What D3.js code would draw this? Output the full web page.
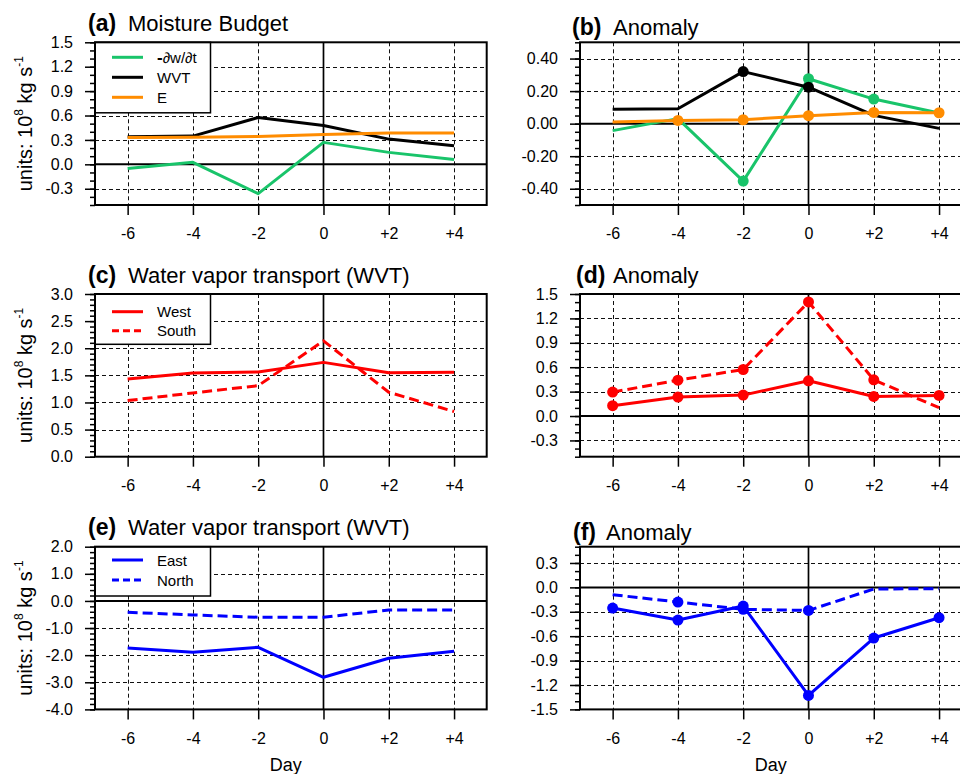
<!DOCTYPE html>
<html><head><meta charset="utf-8">
<script src="https://cdn.jsdelivr.net/npm/d3@7"></script>
<style>
html,body{margin:0;padding:0;background:#fff;}
svg{display:block;font-family:"Liberation Sans",Arial,Helvetica,sans-serif;}
</style></head>
<body>
<svg id="chart" width="960" height="774"></svg>
<script>
// ---------------- DATA ----------------
const days = [-6, -4, -2, 0, 2, 4];
const dayLabels = ["-6", "-4", "-2", "0", "+2", "+4"];

// (a) Moisture budget
const aDwdt = [-0.05, 0.025, -0.36, 0.27, 0.147, 0.058];
const aWVT  = [0.34, 0.347, 0.576, 0.478, 0.31, 0.229];
const aE    = [0.33, 0.332, 0.343, 0.367, 0.384, 0.384];
// (b) Anomaly
const bDwdt = [-0.043, 0.031, -0.353, 0.276, 0.151, 0.065];
const bWVT  = [0.088, 0.092, 0.32, 0.224, 0.051, -0.029];
const bE    = [0.01, 0.02, 0.024, 0.049, 0.069, 0.067];
const bDwdtSig = [0, 0, 1, 1, 1, 0];
const bWVTSig  = [0, 0, 1, 1, 0, 0];
const bESig    = [0, 1, 1, 1, 1, 1];
// (c) WVT west / south
const cWest  = [1.433, 1.543, 1.561, 1.739, 1.549, 1.555];
const cSouth = [1.035, 1.176, 1.31, 2.137, 1.188, 0.833];
// (d) Anomaly
const dWest  = [0.127, 0.233, 0.257, 0.433, 0.241, 0.253];
const dSouth = [0.294, 0.441, 0.572, 1.402, 0.445, 0.102];
const dWestSig  = [1, 1, 1, 1, 1, 1];
const dSouthSig = [1, 1, 1, 1, 1, 0];
// (e) WVT east / north
const eEast  = [-1.734, -1.893, -1.709, -2.816, -2.115, -1.857];
const eNorth = [-0.418, -0.516, -0.602, -0.602, -0.332, -0.332];
// (f) Anomaly
const fEast  = [-0.254, -0.402, -0.23, -1.328, -0.623, -0.373];
const fNorth = [-0.09, -0.18, -0.27, -0.283, -0.02, -0.016];
const fEastSig  = [1, 1, 1, 1, 1, 1];
const fNorthSig = [0, 1, 1, 1, 0, 0];

// tick values / labels
const yTicksA = [-0.3, 0, 0.3, 0.6, 0.9, 1.2, 1.5];
const yLabelsA = ["-0.3", "0.0", "0.3", "0.6", "0.9", "1.2", "1.5"];
const yTicksB = [-0.4, -0.2, 0, 0.2, 0.4];
const yLabelsB = ["-0.40", "-0.20", "0.00", "0.20", "0.40"];
const yTicksC = [0, 0.5, 1, 1.5, 2, 2.5, 3];
const yLabelsC = ["0.0", "0.5", "1.0", "1.5", "2.0", "2.5", "3.0"];
const yTicksD = [-0.3, 0, 0.3, 0.6, 0.9, 1.2, 1.5];
const yLabelsD = ["-0.3", "0.0", "0.3", "0.6", "0.9", "1.2", "1.5"];
const yTicksE = [-4, -3, -2, -1, 0, 1, 2];
const yLabelsE = ["-4.0", "-3.0", "-2.0", "-1.0", "0.0", "1.0", "2.0"];
const yTicksF = [-1.5, -1.2, -0.9, -0.6, -0.3, 0, 0.3];
const yLabelsF = ["-1.5", "-1.2", "-0.9", "-0.6", "-0.3", "0.0", "0.3"];

const GREEN = "#19c46a", ORANGE = "#ff8c00", RED = "#ff0000", BLUE = "#0000ff";

// ---------------- DRAW ----------------
const svg = d3.select("#chart");
const PW = 391.7, PH = 162.7;
const FONT_TICK = 16;

function panel(cfg) {
  const g = svg.append("g");
  const x = d3.scaleLinear().domain([-7, 5]).range([cfg.left, cfg.left + PW]);
  const y = d3.scaleLinear().domain(cfg.yDomain).range([cfg.top + PH, cfg.top]);
  const x0 = cfg.left, x1 = cfg.left + PW, y0 = cfg.top + PH, y1 = cfg.top;

  // grid
  const grid = g.append("g").attr("stroke", "#111").attr("stroke-width", 1).attr("stroke-dasharray", "4,3");
  grid.selectAll("line.v").data(days.filter(d => d !== 0)).join("line")
    .attr("x1", d => Math.round(x(d)) + 0.5).attr("x2", d => Math.round(x(d)) + 0.5)
    .attr("y1", y1).attr("y2", y0);
  grid.selectAll("line.h").data(cfg.yTicks.filter(v => v !== 0 && v !== cfg.yDomain[0] && v !== cfg.yDomain[1])).join("line")
    .attr("y1", v => Math.round(y(v)) + 0.5).attr("y2", v => Math.round(y(v)) + 0.5)
    .attr("x1", x0).attr("x2", x1);

  // zero lines
  g.append("line").attr("x1", x(0)).attr("x2", x(0)).attr("y1", y1).attr("y2", y0)
    .attr("stroke", "#000").attr("stroke-width", 1.7);
  if (cfg.yDomain[0] < 0) {
    g.append("line").attr("x1", x0).attr("x2", x1).attr("y1", y(0)).attr("y2", y(0))
      .attr("stroke", "#000").attr("stroke-width", 2);
  }

  // series
  const line = d3.line().x((d, i) => x(days[i])).y(d => y(d));
  cfg.series.forEach(s => {
    g.append("path").datum(s.values).attr("d", line)
      .attr("fill", "none").attr("stroke", s.color).attr("stroke-width", 3)
      .attr("stroke-linejoin", "round")
      .attr("stroke-dasharray", s.dash ? s.dash : null);
    if (s.sig) {
      g.selectAll(null).data(s.values.map((v, i) => ({v, i})).filter(o => s.sig[o.i])).join("circle")
        .attr("cx", o => x(days[o.i])).attr("cy", o => y(o.v)).attr("r", 5.5)
        .attr("fill", s.color);
    }
  });

  // legend
  if (cfg.legend) {
    const L = cfg.legend;
    g.append("rect").attr("x", x0).attr("y", y1).attr("width", 115.5).attr("height", L.h)
      .attr("fill", "#fff").attr("stroke", "#000").attr("stroke-width", 1.5);
    L.items.forEach((it, k) => {
      const yy = y1 + L.first + k * L.step;
      g.append("line").attr("x1", x0 + 17).attr("x2", x0 + 48).attr("y1", yy).attr("y2", yy)
        .attr("stroke", it.color).attr("stroke-width", 3).attr("stroke-dasharray", it.dash || null);
      const t = g.append("text").attr("x", x0 + 62).attr("y", yy + 5.5).attr("font-size", 15).attr("fill", "#000");
      if (it.html) { it.html(t); } else { t.text(it.label); }
    });
  }

  // frame
  g.append("rect").attr("x", x0).attr("y", y1).attr("width", PW).attr("height", PH)
    .attr("fill", "none").attr("stroke", "#000").attr("stroke-width", 2);

  // y axis minor ticks
  const minor = d3.range(cfg.yDomain[0], cfg.yDomain[1] + 1e-9, cfg.minor)
    .map(v => +v.toFixed(4));
  g.append("g").attr("transform", `translate(${x0},0)`)
    .call(d3.axisLeft(y).tickValues(minor).tickSize(5).tickFormat(""))
    .call(a => { a.select(".domain").remove(); a.selectAll("line").attr("stroke-width", 1.5); });
  // y axis major ticks
  g.append("g").attr("transform", `translate(${x0},0)`)
    .call(d3.axisLeft(y).tickValues(cfg.yTicks).tickSize(10).tickPadding(12)
      .tickFormat((d, i) => cfg.yLabels[i]))
    .call(a => {
      a.select(".domain").remove();
      a.selectAll("line").attr("stroke-width", 1.5);
      a.selectAll("text").attr("font-size", FONT_TICK).attr("fill", "#000")
        .attr("font-family", '"Liberation Sans",Arial,Helvetica,sans-serif');
    });
  // x axis
  g.append("g").attr("transform", `translate(0,${y0})`)
    .call(d3.axisBottom(x).tickValues(days).tickSize(10).tickPadding(13)
      .tickFormat((d, i) => dayLabels[i]))
    .call(a => {
      a.select(".domain").remove();
      a.selectAll("line").attr("stroke-width", 1.5);
      a.selectAll("text").attr("font-size", FONT_TICK).attr("fill", "#000")
        .attr("font-family", '"Liberation Sans",Arial,Helvetica,sans-serif');
    });

  // title
  g.append("text").attr("x", cfg.titleX).attr("y", cfg.titleY).attr("font-size", 23)
    .attr("font-weight", "bold").text(cfg.letter);
  g.append("text").attr("x", cfg.titleTextX).attr("y", cfg.titleY).attr("font-size", 22)
    .text(cfg.title);

  // y label
  if (cfg.yLabel) {
    const t = g.append("text").attr("transform", `translate(32,${cfg.top + PH / 2}) rotate(-90)`)
      .attr("text-anchor", "middle").attr("font-size", 20);
    t.append("tspan").text("units: 10");
    t.append("tspan").attr("font-size", 12).attr("dy", -9).text("8");
    t.append("tspan").attr("dy", 9).text(" kg s");
    t.append("tspan").attr("font-size", 12).attr("dy", -9).text("-1");
  }
  if (cfg.xLabel) {
    g.append("text").attr("x", (x0 + x(5)) / 2 - 5).attr("y", 771).attr("text-anchor", "middle")
      .attr("font-size", 18).text("Day");
  }
}

const L = 95, R = 580, T1 = 42.3, T2 = 294, T3 = 546.7;

panel({left: L, top: T1, yDomain: [-0.5, 1.5], yTicks: yTicksA, yLabels: yLabelsA, minor: 0.1,
  letter: "(a)", title: "Moisture Budget", titleX: 88, titleTextX: 128, titleY: 31, yLabel: true,
  series: [
    {values: aDwdt, color: GREEN},
    {values: aWVT, color: "#000"},
    {values: aE, color: ORANGE}
  ],
  legend: {h: 70.5, first: 15, step: 20, items: [
    {color: GREEN, html: t => { t.append("tspan").attr("font-weight", "bold").attr("font-size", 17).text("-"); t.append("tspan").text("∂w/∂t"); }},
    {color: "#000", label: "WVT"},
    {color: ORANGE, label: "E"}
  ]}
});

panel({left: R, top: T1, yDomain: [-0.5, 0.5], yTicks: yTicksB, yLabels: yLabelsB, minor: 0.05,
  letter: "(b)", title: "Anomaly", titleX: 572, titleTextX: 613, titleY: 35,
  series: [
    {values: bDwdt, color: GREEN, sig: bDwdtSig},
    {values: bWVT, color: "#000", sig: bWVTSig},
    {values: bE, color: ORANGE, sig: bESig}
  ]
});

panel({left: L, top: T2, yDomain: [0, 3], yTicks: yTicksC, yLabels: yLabelsC, minor: 0.1,
  letter: "(c)", title: "Water vapor transport (WVT)", titleX: 88, titleTextX: 128, titleY: 283, yLabel: true,
  series: [
    {values: cWest, color: RED},
    {values: cSouth, color: RED, dash: "10,5"}
  ],
  legend: {h: 50.3, first: 17.7, step: 19, items: [
    {color: RED, label: "West"},
    {color: RED, dash: "7,4", label: "South"}
  ]}
});

panel({left: R, top: T2, yDomain: [-0.5, 1.5], yTicks: yTicksD, yLabels: yLabelsD, minor: 0.1,
  letter: "(d)", title: "Anomaly", titleX: 576, titleTextX: 613, titleY: 283,
  series: [
    {values: dWest, color: RED, sig: dWestSig},
    {values: dSouth, color: RED, dash: "10,5", sig: dSouthSig}
  ]
});

panel({left: L, top: T3, yDomain: [-4, 2], yTicks: yTicksE, yLabels: yLabelsE, minor: 0.2,
  letter: "(e)", title: "Water vapor transport (WVT)", titleX: 88, titleTextX: 128, titleY: 535, yLabel: true, xLabel: true,
  series: [
    {values: eEast, color: BLUE},
    {values: eNorth, color: BLUE, dash: "10,5"}
  ],
  legend: {h: 49.3, first: 13.3, step: 20, items: [
    {color: BLUE, label: "East"},
    {color: BLUE, dash: "7,4", label: "North"}
  ]}
});

panel({left: R, top: T3, yDomain: [-1.5, 0.5], yTicks: yTicksF, yLabels: yLabelsF, minor: 0.1,
  letter: "(f)", title: "Anomaly", titleX: 573, titleTextX: 606, titleY: 540, xLabel: true,
  series: [
    {values: fEast, color: BLUE, sig: fEastSig},
    {values: fNorth, color: BLUE, dash: "10,5", sig: fNorthSig}
  ]
});
</script>
</body></html>
